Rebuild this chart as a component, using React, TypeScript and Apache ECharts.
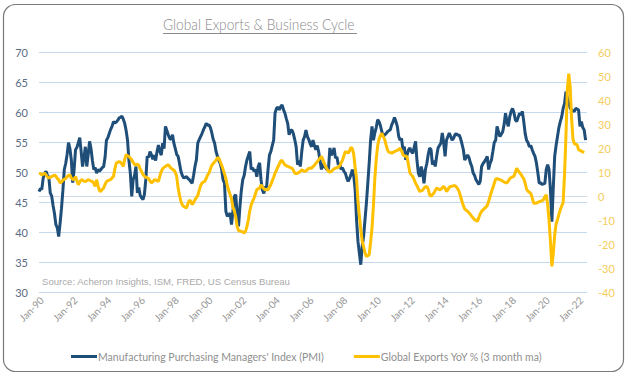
import React, { useEffect, useRef } from "react";
import * as echarts from "echarts";

// Monthly observations from Nov-1989 to May-2022
const MONTH_NAMES = ["Jan", "Feb", "Mar", "Apr", "May", "Jun", "Jul", "Aug", "Sep", "Oct", "Nov", "Dec"];
const START_YEAR = 1989;
const START_MONTH = 10; // November (0-based)
const N_POINTS = 391;

const categories: string[] = Array.from({ length: N_POINTS }, (_, i) => {
  const m = (START_MONTH + i) % 12;
  const y = START_YEAR + Math.floor((START_MONTH + i) / 12);
  return `${MONTH_NAMES[m]}-${String(y % 100).padStart(2, "0")}`;
});

// Manufacturing PMI (left axis)
const pmi: (number | null)[] = [
  46.8, 47.3,
  47.2, 49.1, 49.9, 50.2, 49.5, 49.2, 46.6, 46.1, 44.5, 43.2, 41.3, 40.8, // 1990
  39.3, 41.5, 44.0, 47.0, 50.5, 51.5, 53.0, 55.0, 54.0, 52.1, 48.3, 50.5, // 1991
  53.8, 54.2, 55.0, 55.8, 53.5, 51.0, 52.5, 54.3, 51.0, 53.0, 55.2, 54.0, // 1992
  52.0, 50.5, 50.8, 49.9, 50.5, 50.2, 50.5, 50.8, 51.0, 52.5, 55.4, 55.8, // 1993
  56.5, 57.2, 57.7, 58.5, 58.3, 58.4, 58.7, 59.1, 59.2, 59.4, 58.9, 58.2, // 1994
  57.0, 55.4, 52.0, 49.9, 46.0, 48.8, 49.5, 51.0, 46.6, 47.5, 46.2, 45.8, // 1995
  45.5, 46.3, 48.8, 52.7, 52.5, 53.5, 53.0, 52.2, 52.9, 52.0, 53.5, 54.6, // 1996
  53.5, 52.9, 54.9, 54.0, 57.7, 57.0, 56.3, 55.7, 55.5, 56.3, 54.9, 54.0, // 1997
  53.0, 52.7, 51.5, 50.2, 49.5, 49.1, 49.2, 49.3, 49.0, 48.8, 48.5, 48.2, // 1998
  49.5, 51.0, 52.1, 54.9, 55.5, 56.0, 56.5, 57.1, 57.6, 58.2, 57.9, 57.95, // 1999
  57.5, 56.6, 55.5, 54.9, 53.5, 52.7, 52.0, 51.5, 50.5, 48.8, 48.2, 43.5, // 2000
  42.7, 42.9, 43.2, 41.3, 43.5, 46.0, 46.3, 43.0, 41.0, 44.3, 47.0, 48.8, // 2001
  49.5, 51.0, 52.1, 52.8, 53.5, 50.5, 50.8, 50.2, 50.5, 49.3, 51.0, 51.6, // 2002
  48.8, 47.1, 46.5, 47.5, 47.7, 50.5, 52.9, 53.5, 54.5, 55.4, 59.9, 60.7, // 2003
  60.9, 60.45, 61.0, 61.3, 60.5, 59.9, 59.0, 58.2, 56.3, 57.0, 57.1, 56.5, // 2004
  55.5, 54.3, 51.3, 52.0, 51.0, 53.5, 55.4, 56.0, 57.1, 56.0, 55.5, 54.8, // 2005
  54.3, 55.4, 54.5, 53.8, 54.5, 53.5, 52.0, 50.5, 51.5, 51.0, 50.8, 50.5, // 2006
  50.5, 54.1, 52.9, 53.2, 54.1, 52.4, 52.6, 51.3, 51.5, 50.5, 50.8, 50.2, // 2007
  49.9, 49.1, 48.5, 49.0, 49.6, 50.5, 49.5, 47.1, 42.1, 38.5, 36.5, 34.6, // 2008
  37.7, 39.3, 42.1, 44.9, 48.2, 51.6, 55.4, 57.7, 55.4, 56.6, 57.5, 58.8, // 2009
  58.5, 57.8, 56.8, 56.0, 56.3, 56.5, 56.8, 57.0, 57.1, 57.95, 58.5, 59.2, // 2010
  58.5, 57.7, 56.0, 55.4, 55.7, 53.8, 54.3, 52.1, 53.0, 53.8, 54.1, 53.5, // 2011
  53.2, 54.2, 55.2, 52.0, 49.9, 49.3, 51.0, 50.0, 48.2, 50.5, 51.5, 53.0, // 2012
  54.1, 53.8, 51.3, 52.0, 51.0, 52.7, 54.1, 54.5, 54.9, 56.6, 55.0, 52.7, // 2013
  55.4, 56.0, 56.6, 56.0, 55.4, 55.7, 56.3, 56.5, 56.2, 56.3, 55.7, 54.8, // 2014
  53.8, 52.1, 52.5, 52.9, 52.5, 51.6, 51.0, 49.9, 49.5, 48.8, 48.4, 48.0, // 2015
  48.5, 51.0, 51.5, 51.8, 52.2, 52.7, 50.5, 51.5, 52.1, 53.5, 55.0, 55.4, // 2016
  57.7, 56.8, 56.0, 56.4, 56.8, 58.0, 59.9, 58.5, 57.7, 59.3, 60.2, 60.7, // 2017
  60.0, 58.8, 58.5, 59.2, 59.9, 59.6, 60.2, 58.5, 56.5, 55.4, 55.0, 54.3, // 2018
  54.5, 53.8, 53.2, 52.7, 51.6, 50.0, 48.2, 48.3, 48.0, 48.1, 48.2, 50.5, // 2019
  51.3, 50.5, 47.0, 41.8, 47.5, 52.7, 54.5, 56.0, 57.5, 58.5, 59.3, 60.7, // 2020
  61.5, 63.5, 62.5, 61.6, 60.8, 60.45, 60.3, 60.2, 60.7, 60.6, 60.45, 57.7, // 2021
  58.5, 57.5, 57.1, 55.4, null, // 2022
];

// Global exports YoY % (3 month moving average, right axis)
const exportsYoY: (number | null)[] = [
  9.75, 9.5,
  9.0, 9.3, 9.75, 9.0, 8.2, 7.7, 8.0, 8.3, 8.6, 9.0, 8.5, 7.5, // 1990
  7.0, 5.6, 6.0, 6.8, 7.2, 7.5, 8.2, 8.8, 9.0, 7.7, 7.2, 7.0, // 1991
  8.3, 6.5, 4.9, 6.0, 7.0, 6.8, 6.4, 6.2, 6.6, 7.0, 6.8, 6.4, // 1992
  6.25, 5.5, 4.2, 7.0, 4.5, 2.5, 2.1, 3.0, 3.5, 5.0, 6.2, 6.6, // 1993
  6.8, 7.0, 7.8, 8.3, 11.5, 13.9, 14.2, 14.6, 14.3, 13.5, 12.5, 15.5, // 1994
  17.4, 17.0, 16.7, 16.0, 15.3, 14.2, 13.4, 13.2, 13.5, 13.0, 11.5, 10.4, // 1995
  9.2, 8.5, 8.0, 7.8, 7.5, 6.5, 5.6, 6.2, 6.8, 7.0, 6.5, 6.25, // 1996
  8.5, 10.4, 11.5, 12.2, 12.5, 13.0, 13.2, 12.5, 11.8, 11.3, 11.0, 10.0, // 1997
  8.3, 3.5, 0.5, -2.1, -3.5, -4.2, -4.5, -4.8, -3.0, -1.6, -2.0, -3.4, // 1998
  -2.5, -1.4, -0.5, 0.4, 2.5, 4.5, 5.6, 6.0, 6.25, 7.5, 9.0, 9.75, // 1999
  11.5, 13.0, 13.8, 14.4, 15.2, 16.2, 16.0, 14.5, 13.0, 11.3, 9.5, 7.5, // 2000
  4.5, 2.5, 0.8, -1.0, -4.5, -6.0, -8.5, -12.5, -14.2, -14.4, -14.6, -14.8, // 2001
  -15.3, -14.5, -12.5, -9.7, -6.0, -3.5, -2.0, -0.8, 1.0, 2.8, 3.2, 3.5, // 2002
  4.9, 4.0, 3.2, 2.8, 2.9, 2.8, 3.8, 5.0, 6.5, 8.0, 9.75, 11.0, // 2003
  12.3, 13.5, 14.8, 15.0, 14.0, 13.2, 12.8, 12.6, 12.3, 12.0, 11.8, 11.0, // 2004
  9.75, 9.5, 9.75, 10.0, 10.5, 11.1, 10.8, 10.5, 10.6, 11.2, 11.8, 11.8, // 2005
  11.8, 12.5, 13.0, 13.8, 14.5, 15.3, 16.0, 16.7, 15.5, 13.8, 12.5, 11.5, // 2006
  10.4, 10.2, 10.4, 11.0, 11.5, 11.8, 12.0, 12.2, 12.8, 14.0, 15.2, 17.0, // 2007
  18.75, 18.5, 18.1, 19.0, 20.5, 20.0, 17.5, 12.0, 7.5, -2.0, -8.0, -13.9, // 2008
  -18.5, -21.0, -23.5, -25.0, -24.8, -24.3, -19.0, -13.0, -4.0, 7.5, 15.5, 21.0, // 2009
  24.0, 25.5, 26.4, 25.0, 23.8, 21.5, 19.5, 18.5, 18.3, 18.1, 18.4, 18.75, // 2010
  19.0, 19.3, 19.5, 20.2, 19.0, 17.4, 17.0, 16.8, 16.5, 13.0, 9.75, 9.0, // 2011
  8.3, 7.0, 5.5, 4.5, 3.2, 2.1, 2.3, 2.6, 3.5, 4.0, 4.2, 3.0, // 2012
  0.8, 0.0, 0.8, 1.4, 2.5, 3.5, 3.2, 2.8, 3.0, 3.6, 4.2, 3.5, // 2013
  2.1, 2.8, 3.8, 4.2, 4.3, 4.5, 4.5, 4.0, 3.2, 2.0, 0.0, -2.0, // 2014
  -3.8, -5.2, -5.8, -6.2, -6.8, -7.5, -8.3, -9.0, -9.7, -10.0, -10.4, -8.8, // 2015
  -7.3, -6.2, -5.6, -5.0, -4.5, -3.8, -2.0, 0.0, 2.0, 3.6, 5.5, 7.2, // 2016
  7.5, 7.2, 7.0, 6.8, 6.4, 6.0, 5.8, 5.6, 6.5, 7.4, 7.9, 8.2, // 2017
  8.5, 10.0, 11.8, 10.8, 10.0, 9.3, 8.2, 7.4, 5.5, 3.0, 2.2, 1.8, // 2018
  1.2, -0.5, -2.8, -2.8, -2.75, -2.5, -2.2, -2.0, -1.8, -1.4, -0.2, 0.7, // 2019
  -3.5, -10.0, -19.0, -29.2, -24.0, -16.0, -11.5, -9.7, -7.5, -5.5, -4.0, -2.5, // 2020
  9.0, 25.0, 44.5, 51.3, 46.0, 33.0, 24.0, 22.0, 21.8, 21.5, 19.5, 19.2, // 2021
  18.9, 18.6, 18.3, null, null, // 2022
];

const SERIES_NAMES = [
  "Manufacturing Purchasing Managers' Index (PMI)",
  "Global Exports YoY % (3 month ma)",
];
const TITLE = "Global Exports & Business Cycle";
const SOURCE = "Source: Acheron Insights, ISM, FRED, US Census Bureau";

const FONT = "Lato, 'Open Sans', sans-serif";

export default function App() {
  const ref = useRef<HTMLDivElement>(null);

  useEffect(() => {
    if (!ref.current) return;
    const chart = echarts.init(ref.current, null, { renderer: "svg" });
    chart.setOption({
      animation: false,
      backgroundColor: "#ffffff",
      grid: { left: 39, right: 42, top: 52.7, bottom: 84.7, containLabel: false },
      legend: {
        left: 66,
        top: 346,
        itemWidth: 26,
        itemHeight: 3,
        itemGap: 30,
        icon: "rect",
        textStyle: { color: "#8f8f8f", fontSize: 10.5, fontFamily: FONT, padding: [0, 0, 0, -4] },
        data: SERIES_NAMES,
      },
      xAxis: {
        type: "category",
        data: categories,
        boundaryGap: false,
        axisLine: { show: true, lineStyle: { color: "#d3dbe6", width: 1 } },
        axisTick: { show: false },
        splitLine: { show: false },
        axisLabel: {
          rotate: 45,
          margin: 6,
          color: "#959595",
          fontSize: 10,
          fontFamily: FONT,
          interval: (idx: number, val: string) => {
            if (!val.startsWith("Jan-")) return false;
            const yy = parseInt(val.slice(4), 10);
            return yy % 2 === 0;
          },
        },
      },
      yAxis: [
        {
          type: "value",
          min: 30,
          max: 70,
          interval: 5,
          axisLine: { show: false },
          axisTick: { show: false },
          axisLabel: { color: "#5a6b83", fontSize: 11, margin: 11, fontFamily: FONT },
          splitLine: { show: true, lineStyle: { color: "#c4d8ee", width: 1 } },
        },
        {
          type: "value",
          min: -40,
          max: 60,
          interval: 10,
          axisLine: { show: false },
          axisTick: { show: false },
          axisLabel: { color: "#f5cd5e", fontSize: 11, margin: 11, fontFamily: FONT },
          splitLine: { show: false },
        },
      ],
      series: [
        {
          name: SERIES_NAMES[0],
          type: "line",
          yAxisIndex: 0,
          data: pmi,
          symbol: "none",
          lineStyle: { color: "#1f4e79", width: 3 },
          itemStyle: { color: "#1f4e79" },
          z: 2,
        },
        {
          name: SERIES_NAMES[1],
          type: "line",
          yAxisIndex: 1,
          data: exportsYoY,
          symbol: "none",
          lineStyle: { color: "#ffc000", width: 3 },
          itemStyle: { color: "#ffc000" },
          z: 3,
        },
      ],
      graphic: [
        {
          type: "rect",
          shape: { x: 3.5, y: 4.5, width: 620, height: 367, r: 12 },
          style: { fill: "none", stroke: "#7a7a7a", lineWidth: 1.2 },
          silent: true,
          z: 0,
        },
        {
          type: "text",
          x: 163,
          y: 16,
          scaleX: 0.86,
          style: {
            text: TITLE,
            fill: "#8a8a8a",
            font: `300 16px ${FONT}`,
          },
          z: 10,
        },
        {
          type: "line",
          shape: { x1: 163, y1: 33.5, x2: 357, y2: 33.5 },
          style: { stroke: "#8a8a8a", lineWidth: 1 },
          z: 10,
        },
        {
          type: "text",
          x: 42,
          y: 276.5,
          style: {
            text: SOURCE,
            fill: "#aaaaaa",
            font: "9.6px 'Liberation Sans', Arial, sans-serif",
          },
          z: 10,
        },
      ],
    });
    return () => chart.dispose();
  }, []);

  return (
    <div
      ref={ref}
      style={{ position: "fixed", left: 0, top: 0, width: 629, height: 377, background: "#fff" }}
    />
  );
}
